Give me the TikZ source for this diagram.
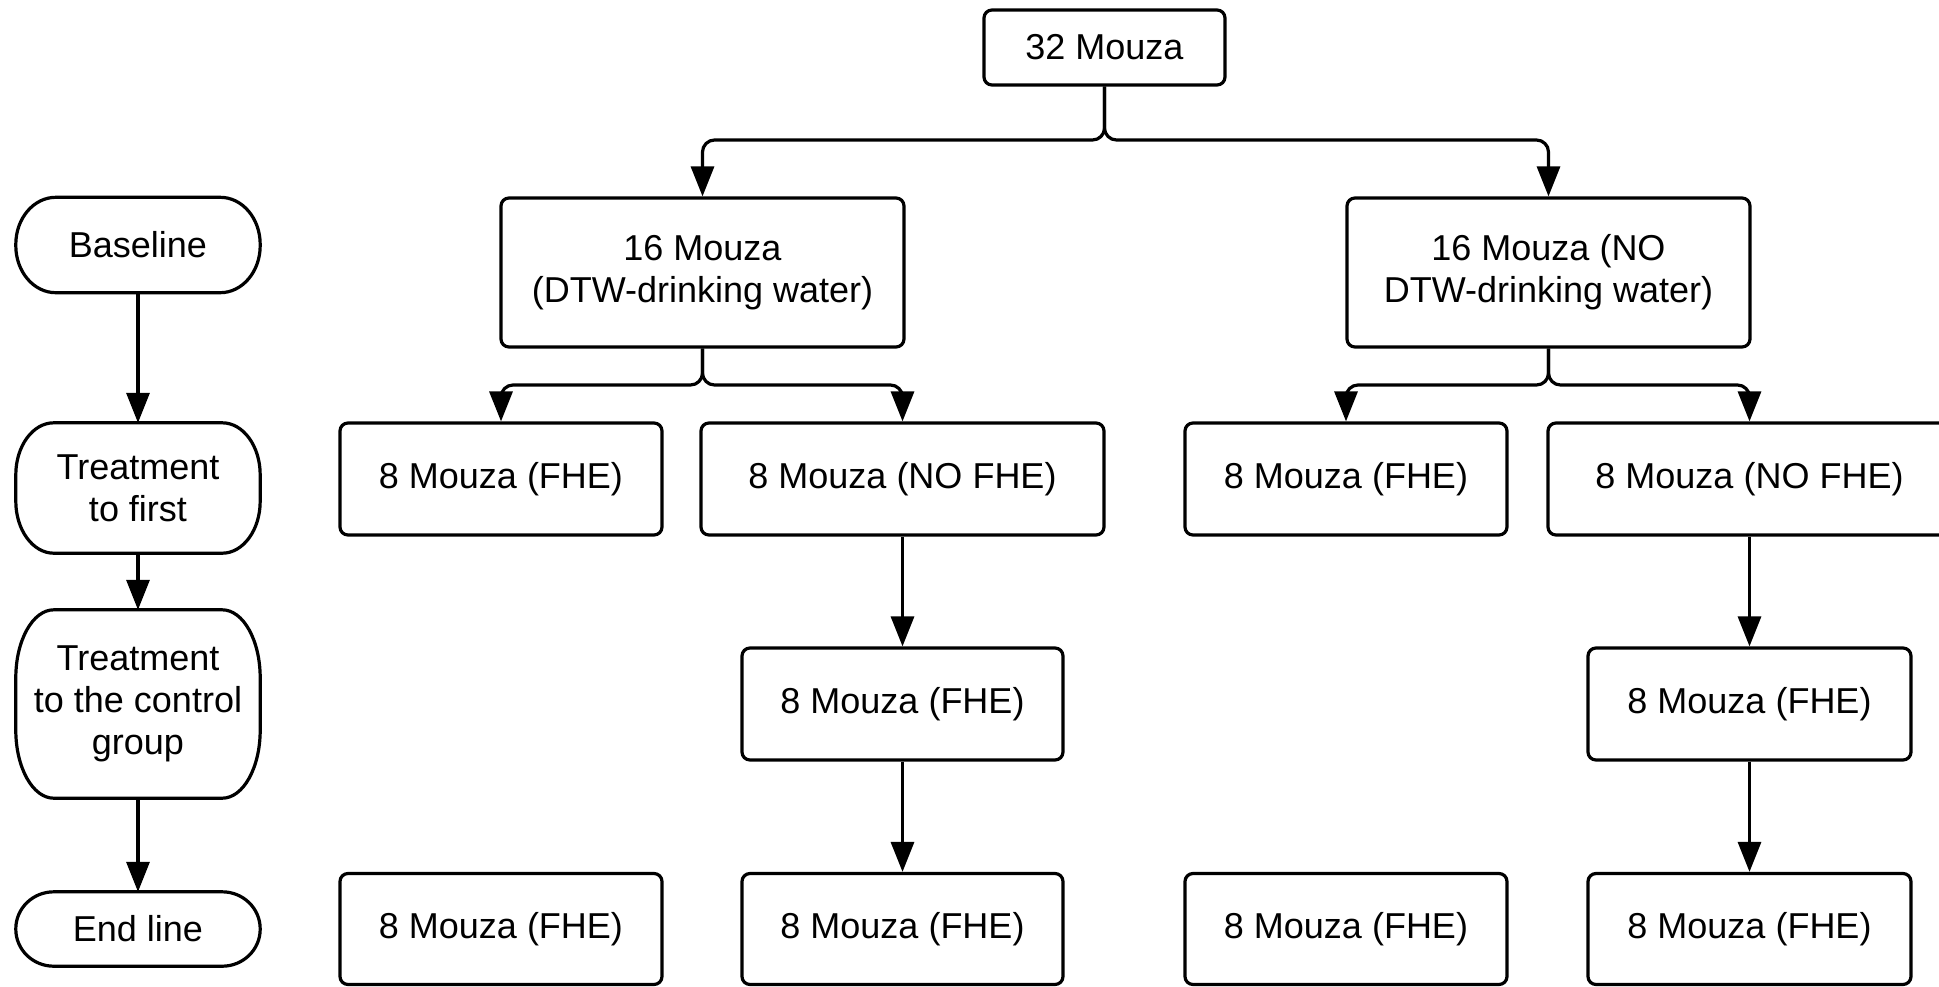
\documentclass[tikz,border=0pt]{standalone}
\usepackage{fontspec}
\setmainfont{Liberation Sans}
\usetikzlibrary{arrows.meta,calc}
\tikzset{
  rbox/.style={draw, line width=3.2pt, rounded corners=8pt, inner sep=0pt, align=center,
    font=\fontsize{36}{42}\selectfont},
  termnode/.style={draw=none, inner sep=0pt, align=center, minimum width=244pt,
    font=\fontsize{36}{42}\selectfont},
  shapeline/.style={line width=3.2pt},
  conn/.style={line width=3.2pt, rounded corners=12pt, -{Triangle[length=30pt,width=23pt]}},
}
\newcommand\termbox[3]{%
  \draw[shapeline] ($(#1.north west)+(#2,0)$) -- ($(#1.north east)+(-#2,0)$)
    arc[start angle=90, end angle=0, x radius=#2, y radius=#3]
    -- ($(#1.south east)+(0,#3)$)
    arc[start angle=0, end angle=-90, x radius=#2, y radius=#3]
    -- ($(#1.south west)+(#2,0)$)
    arc[start angle=270, end angle=180, x radius=#2, y radius=#3]
    -- ($(#1.north west)+(0,-#3)$)
    arc[start angle=180, end angle=90, x radius=#2, y radius=#3] -- cycle;}
\begin{document}
\begin{tikzpicture}[x=1pt,y=1pt]
\useasboundingbox (0,0) rectangle (1939,-986);
\fill[white] (0,0) rectangle (1939,-986);
% main tree
\node[rbox, minimum width=241pt, minimum height=75pt] (top) at (1104.5,-47.5) {32 Mouza};
\node[rbox, minimum width=403pt, minimum height=149pt] (d16) at (702.5,-272.5) {16 Mouza\\(DTW-drinking water)};
\node[rbox, minimum width=403pt, minimum height=149pt] (n16) at (1548.5,-272.5) {16 Mouza (NO\\DTW-drinking water)};
\node[rbox, minimum width=322pt, minimum height=112pt] (a1) at (501,-479) {8 Mouza (FHE)};
\node[rbox, minimum width=403pt, minimum height=112pt] (a2) at (902.5,-479) {8 Mouza (NO FHE)};
\node[rbox, minimum width=322pt, minimum height=112pt] (a3) at (1346,-479) {8 Mouza (FHE)};
\node[rbox, minimum width=403pt, minimum height=112pt] (a4) at (1749.5,-479) {8 Mouza (NO FHE)};
\node[rbox, minimum width=321pt, minimum height=112pt] (b2) at (902.5,-704) {8 Mouza (FHE)};
\node[rbox, minimum width=323pt, minimum height=112pt] (b4) at (1749.5,-704) {8 Mouza (FHE)};
\node[rbox, minimum width=322pt, minimum height=111pt] (c1) at (501,-929) {8 Mouza (FHE)};
\node[rbox, minimum width=321pt, minimum height=111pt] (c2) at (902.5,-929) {8 Mouza (FHE)};
\node[rbox, minimum width=322pt, minimum height=111pt] (c3) at (1346,-929) {8 Mouza (FHE)};
\node[rbox, minimum width=323pt, minimum height=111pt] (c4) at (1749.5,-929) {8 Mouza (FHE)};
% left column
\node[termnode, minimum height=95pt] (L1) at (138,-245) {Baseline};
\node[termnode, minimum height=130pt] (L2) at (138,-488) {Treatment\\to first};
\node[termnode, minimum height=188pt] (L3) at (138,-704) {Treatment\\to the control\\group};
\node[termnode, minimum height=74pt] (L4) at (138,-929) {End line};
\termbox{L1}{40}{47}
\termbox{L2}{38}{52}
\termbox{L3}{38}{68}
\termbox{L4}{38}{37}
% junctions
\coordinate (j1) at (1104.5,-140);
\coordinate (j2) at (702.5,-385);
\coordinate (j3) at (1548.5,-385);
% connectors
\draw[conn] (top.south) -- (j1) -| (d16.north);
\draw[conn] (top.south) -- (j1) -| (n16.north);
\draw[conn] (d16.south) -- (j2) -| (a1.north);
\draw[conn] (d16.south) -- (j2) -| (a2.north);
\draw[conn] (n16.south) -- (j3) -| (a3.north);
\draw[conn] (n16.south) -- (j3) -| (a4.north);
\draw[conn] (a2.south) -- (b2.north);
\draw[conn] (b2.south) -- (c2.north);
\draw[conn] (a4.south) -- (b4.north);
\draw[conn] (b4.south) -- (c4.north);
\draw[conn] (L1.south) -- (L2.north);
\draw[conn] (L2.south) -- (L3.north);
\draw[conn] (L3.south) -- (L4.north);
\end{tikzpicture}
\end{document}
